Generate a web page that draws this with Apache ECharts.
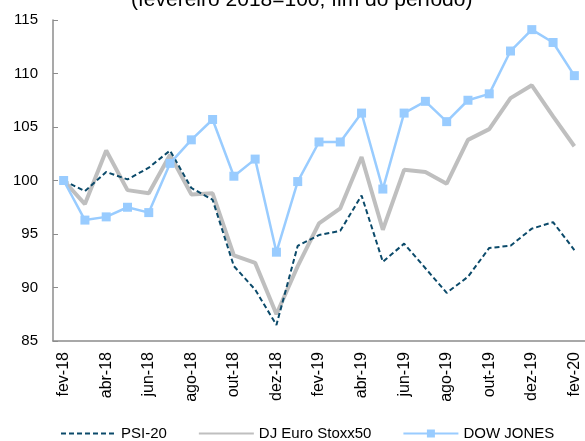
<!DOCTYPE html>
<html>
<head>
<meta charset="utf-8">
<script src="https://cdn.jsdelivr.net/npm/echarts@6/dist/echarts.min.js"></script>
<style>html,body{margin:0;padding:0;background:#fff}#c{width:585px;height:441px}</style>
</head>
<body>
<div id="c"></div>
<script>
var categories = ['fev-18','mar-18','abr-18','mai-18','jun-18','jul-18','ago-18','set-18','out-18','nov-18','dez-18','jan-19',
  'fev-19','mar-19','abr-19','mai-19','jun-19','jul-19','ago-19','set-19','out-19','nov-19','dez-19','jan-20','fev-20'];
var psi20 = [100, 99.0, 100.8, 100.1, 101.2, 102.8, 99.3, 98.2, 92.0, 89.8, 86.5, 93.9,
  94.9, 95.3, 98.6, 92.4, 94.1, 91.8, 89.5, 91.0, 93.7, 93.9, 95.5, 96.1, 93.5];
var djEuroStoxx50 = [100, 97.8, 102.8, 99.1, 98.8, 102.4, 98.7, 98.8, 93.0, 92.3, 87.5, 92.0,
  96.0, 97.4, 102.2, 95.4, 101.0, 100.8, 99.7, 103.8, 104.8, 107.7, 108.9, 106.0, 103.2];
var dowJones = [100, 96.3, 96.6, 97.5, 97.0, 101.6, 103.8, 105.7, 100.4, 102.0, 93.3, 99.9,
  103.6, 103.6, 106.3, 99.2, 106.3, 107.4, 105.5, 107.5, 108.1, 112.1, 114.1, 112.9, 109.8];
var seriesNames = ['PSI-20', 'DJ Euro Stoxx50', 'DOW JONES'];
var titleText = '(fevereiro 2018=100; fim do período)';

var FONT = '"Liberation Sans", Arial, sans-serif';
var chart = echarts.init(document.getElementById('c'), null, {renderer: 'canvas'});
chart.setOption({
  animation: false,
  backgroundColor: '#ffffff',
  title: {
    text: titleText,
    left: 126, top: -15,
    textStyle: {fontFamily: FONT, fontSize: 21, fontWeight: 'normal', color: '#000'}
  },
  legend: {
    left: 55, top: 421,
    itemWidth: 55, itemHeight: 10, itemGap: 31,
    textStyle: {fontFamily: FONT, fontSize: 15, color: '#000'},
    data: [
      {name: seriesNames[0], itemStyle: {opacity: 0}},
      {name: seriesNames[1], itemStyle: {opacity: 0}},
      {name: seriesNames[2]}
    ]
  },
  grid: {left: 53, right: -4, top: 20, bottom: 100, containLabel: false},
  xAxis: {
    type: 'category',
    data: categories,
    boundaryGap: true,
    axisLine: {lineStyle: {color: '#8c8c8c', width: 1.5}},
    axisTick: {inside: true, length: 5, interval: 1, lineStyle: {color: '#8c8c8c', width: 1}},
    axisLabel: {interval: 1, rotate: 90, margin: 11, fontFamily: FONT, fontSize: 16, color: '#000'},
    splitLine: {show: false}
  },
  yAxis: {
    type: 'value',
    min: 85, max: 115, interval: 5,
    axisLine: {show: true, lineStyle: {color: '#8c8c8c', width: 1.5}},
    axisTick: {show: true, inside: true, length: 5, lineStyle: {color: '#8c8c8c', width: 1}},
    axisLabel: {margin: 15, fontFamily: FONT, fontSize: 15, color: '#000'},
    splitLine: {show: false}
  },
  series: [
    {
      name: seriesNames[0], type: 'line', data: psi20, z: 3,
      symbol: 'none', showSymbol: false,
      lineStyle: {color: '#0b4a6a', width: 2, type: [5, 3]},
      itemStyle: {color: '#0b4a6a'}
    },
    {
      name: seriesNames[1], type: 'line', data: djEuroStoxx50, z: 2,
      symbol: 'none', showSymbol: false,
      lineStyle: {color: '#bfbfbf', width: 4},
      itemStyle: {color: '#bfbfbf'}
    },
    {
      name: seriesNames[2], type: 'line', data: dowJones, z: 4,
      symbol: 'rect', symbolSize: 9,
      lineStyle: {color: '#99ccff', width: 2.5},
      itemStyle: {color: '#99ccff'}
    }
  ]
});
</script>
</body>
</html>
